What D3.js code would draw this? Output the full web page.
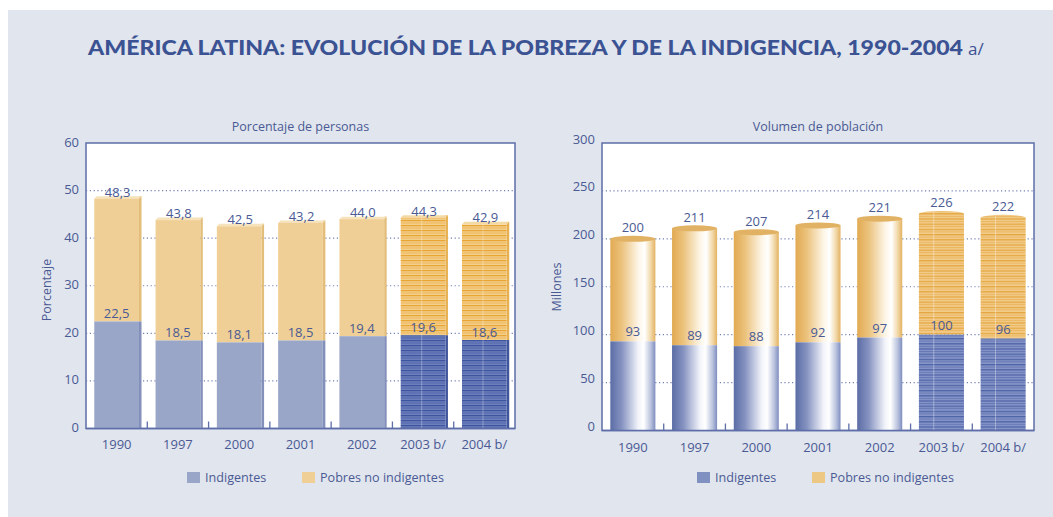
<!DOCTYPE html>
<meta charset="utf-8">
<style>
body{margin:0;background:#fff;}
text{font-family:"Open Sans",sans-serif;font-size:13px;fill:#4a5a94;}
.title{font-family:Lato,sans-serif;font-weight:900;font-size:21px;fill:#3b5293;}
.grid line{stroke:#7282b4;stroke-width:1.2;stroke-dasharray:1.2,2.6;}
.frame{fill:#fff;stroke:#5d6ea8;stroke-width:1.5;}
.tick{stroke:#5d6ea8;stroke-width:1.3;}
</style>
<body>
<script src="https://d3js.org/d3.v7.min.js"></script>
<script>

// values
var years = ["1990","1997","2000","2001","2002","2003 b/","2004 b/"];
var pctIndigentes = [22.5,18.5,18.1,18.5,19.4,19.6,18.6];
var pctPobres = [48.3,43.8,42.5,43.2,44.0,44.3,42.9];      // total poor, incl. indigent
var milIndigentes = [93,89,88,92,97,100,96];
var milPobres = [200,211,207,214,221,226,222];
var pctTicks = [0,10,20,30,40,50,60];
var milTicks = [0,50,100,150,200,250,300];
var legendLabels = ["Indigentes","Pobres no indigentes"];

var es = d3.formatLocale({decimal:",", thousands:".", grouping:[3], currency:["",""]});
var fmt1 = es.format(".1f");

var svg = d3.select("body").append("svg").attr("width",1053).attr("height",517);
var defs = svg.append("defs");

svg.append("rect").attr("x",8).attr("y",10).attr("width",1045).attr("height",507).attr("fill","#e1e5ee");

var title = svg.append("g");
title.append("text").attr("class","title").attr("x",88).attr("y",55)
	.attr("textLength",875).attr("lengthAdjust","spacingAndGlyphs")
	.text("AMÉRICA LATINA: EVOLUCIÓN DE LA POBREZA Y DE LA INDIGENCIA, 1990-2004");
title.append("text").attr("x",968).attr("y",55).style("font-size","17px").style("fill","#3b5293").text("a/");

// stripe patterns for the projected years
function stripes(id, dark, light, h){
	var p = defs.append("pattern").attr("id",id).attr("patternUnits","userSpaceOnUse")
		.attr("width",8).attr("height",h*2);
	p.append("rect").attr("width",8).attr("height",h*2).attr("fill",light);
	p.append("rect").attr("y",0).attr("width",8).attr("height",h*0.5).attr("fill",dark);
	p.append("rect").attr("y",h).attr("width",8).attr("height",h*0.4).attr("fill",dark).attr("opacity",0.6);
}
stripes("sTanL","#e9a534","#f3cf8c",2.5);
stripes("sBlueL","#3d54a0","#6d80bb",2.5);
stripes("sTanR","#e4a63e","#f2cc8c",2.6);
stripes("sBlueR","#4e63a6","#8695c8",2.6);

function hgrad(id, stops){
	var g = defs.append("linearGradient").attr("id",id).attr("x1","0%").attr("x2","100%");
	stops.forEach(function(s){ g.append("stop").attr("offset",s[0]).attr("stop-color",s[1]); });
}
hgrad("gTan",[["0%","#e2aa52"],["25%","#ebc27c"],["62%","#fdf5e6"],["76%","#ffffff"],["90%","#f1d8a8"],["100%","#e3b262"]]);
hgrad("gBlue",[["0%","#5b6da6"],["25%","#8592c0"],["62%","#f2f4fa"],["74%","#ffffff"],["90%","#b9c2dd"],["100%","#7e8dbf"]]);

function panel(o){
	var x = d3.scaleBand().domain(years).range([o.x0,o.x1]).paddingInner(0.27).paddingOuter(0.135);
	var y = d3.scaleLinear().domain([0,o.ticks[o.ticks.length-1]]).range([o.y1,o.y0]);
	var g = svg.append("g");

	g.append("rect").attr("class","frame").attr("x",o.x0).attr("y",o.y0)
		.attr("width",o.x1-o.x0).attr("height",o.y1-o.y0);

	g.append("g").attr("class","grid").selectAll("line")
		.data(o.ticks.filter(function(t){ return t>0 && t<o.ticks[o.ticks.length-1]; }))
		.enter().append("line")
		.attr("x1",o.x0).attr("x2",o.x1).attr("y1",d=>y(d)).attr("y2",d=>y(d));

	g.selectAll(".ylab").data(o.ticks).enter().append("text").attr("class","ylab")
		.attr("x",o.x0-7).attr("y",d=>y(d)+o.ylabDy).attr("text-anchor","end").text(d=>d);

	g.append("text").attr("transform","translate("+o.ytX+","+o.ytY+") rotate(-90)")
		.attr("text-anchor","middle").style("font-size","12.5px").text(o.ytitle);
	g.append("text").attr("x",(o.x0+o.x1)/2).attr("y",131).attr("text-anchor","middle")
		.style("font-size","12.5px").text(o.subtitle);

	g.selectAll(".xlab").data(years).enter().append("text").attr("class","xlab")
		.attr("x",d=>x(d)+x.bandwidth()/2).attr("y",o.xlabY).attr("text-anchor","middle").text(d=>d);

	var bars = g.append("g");
	o.draw(bars, x, y);

	// bottom axis and small ticks between categories
	g.append("line").attr("class","tick").attr("x1",o.x0).attr("x2",o.x1).attr("y1",o.y1).attr("y2",o.y1);
	g.selectAll(".xt").data(years.slice(1)).enter().append("line").attr("class","tick")
		.attr("x1",d=>x(d)-x.step()*0.135).attr("x2",d=>x(d)-x.step()*0.135)
		.attr("y1",o.y1).attr("y2",o.y1-7);

	var lg = g.append("g");
	legendLabels.forEach(function(l,i){
		lg.append("rect").attr("x",o.legX[i]).attr("y",472).attr("width",13).attr("height",11).attr("fill",o.legCol[i]);
		lg.append("text").attr("x",o.legX[i]+18).attr("y",482).style("font-size","12.6px").text(l);
	});
}

// left: flat bars with a small bevel
panel({
	x0:86, x1:515, y0:143, y1:428.5, ticks:pctTicks, ylabDy:3.5,
	ytitle:"Porcentaje", ytX:51, ytY:290, subtitle:"Porcentaje de personas", xlabY:449,
	legX:[187,302], legCol:["#9aa6c8","#efcf95"],
	draw:function(g,x,y){
		var d = 2.5;
		years.forEach(function(yr,i){
			var bx = x(yr), bw = x.bandwidth(), yI = y(pctIndigentes[i]), yP = y(pctPobres[i]), y0 = y(0);
			var proj = yr.indexOf("b/")>0;
			g.append("rect").attr("x",bx+bw).attr("y",yP-d).attr("width",d).attr("height",yI-yP+d)
				.attr("fill",proj?"#e6b050":"#e3bd7a");
			g.append("rect").attr("x",bx+bw).attr("y",yI).attr("width",d).attr("height",y0-yI)
				.attr("fill",proj?"#3f559c":"#8290ba");
			g.append("polygon").attr("points",[[bx,yP],[bx+d,yP-d],[bx+bw+d,yP-d],[bx+bw,yP]].join(" "))
				.attr("fill",proj?"#f3d9a4":"#f6e2bb");
			g.append("rect").attr("x",bx).attr("y",yP).attr("width",bw).attr("height",yI-yP)
				.attr("fill",proj?"url(#sTanL)":"#efcf95");
			g.append("rect").attr("x",bx).attr("y",yI).attr("width",bw).attr("height",y0-yI)
				.attr("fill",proj?"url(#sBlueL)":"#9aa6c8");
			if(proj) g.append("line").attr("x1",bx+bw*0.47).attr("x2",bx+bw*0.47).attr("y1",yP).attr("y2",y0)
				.attr("stroke","#fff").attr("stroke-opacity",0.3);
			g.append("text").attr("x",bx+bw/2+1).attr("y",yP-2).attr("text-anchor","middle").text(fmt1(pctPobres[i]));
			g.append("text").attr("x",bx+bw/2).attr("y",yI-3).attr("text-anchor","middle").text(fmt1(pctIndigentes[i]));
		});
	}
});

// right: cylinders
panel({
	x0:602, x1:1034, y0:143, y1:430.5, ticks:milTicks, ylabDy:0.5,
	ytitle:"Millones", ytX:561, ytY:287, subtitle:"Volumen de población", xlabY:452,
	legX:[697,812], legCol:["#8090c0","#ecc884"],
	draw:function(g,x,y){
		years.forEach(function(yr,i){
			var bx = x(yr), bw = x.bandwidth(), yI = y(milIndigentes[i]), yP = y(milPobres[i]), y0 = y(0);
			var proj = yr.indexOf("b/")>0;
			g.append("rect").attr("x",bx).attr("y",yP).attr("width",bw).attr("height",yI-yP)
				.attr("fill",proj?"url(#sTanR)":"url(#gTan)");
			g.append("rect").attr("x",bx).attr("y",yI).attr("width",bw).attr("height",y0-yI)
				.attr("fill",proj?"url(#sBlueR)":"url(#gBlue)");
			g.append("ellipse").attr("cx",bx+bw/2).attr("cy",yP).attr("rx",bw/2).attr("ry",3)
				.attr("fill",proj?"url(#sTanR)":"#e2b264");
			if(proj) g.append("line").attr("x1",bx+bw*0.33).attr("x2",bx+bw*0.33).attr("y1",yP-2).attr("y2",y0)
				.attr("stroke","#fff").attr("stroke-opacity",0.35);
			g.append("text").attr("x",bx+bw/2).attr("y",yP-6.5).attr("text-anchor","middle").text(milPobres[i]);
			g.append("text").attr("x",bx+bw/2).attr("y",yI-5).attr("text-anchor","middle").text(milIndigentes[i]);
		});
	}
});

</script>
</body>
